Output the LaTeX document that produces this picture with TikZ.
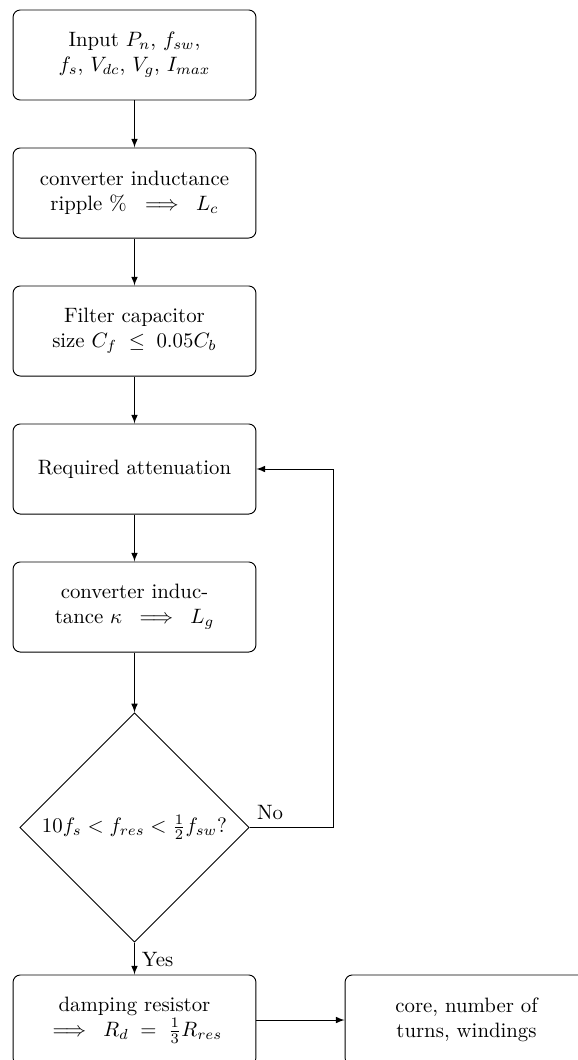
\documentclass[tikz,border=0pt]{standalone}
\usepackage{amsmath}
\usetikzlibrary{shapes.geometric,arrows}
\begin{document}
\begin{tikzpicture}[x=0.4808pt,y=-0.4808pt,>=latex,line width=0.45pt,
  blk/.style={rectangle,draw,rounded corners=3.5pt,minimum width=116.8pt,minimum height=43.3pt,align=center,inner sep=2pt},
  dec/.style={diamond,draw,aspect=1,minimum width=110.3pt,minimum height=110.3pt,inner sep=1pt,align=center},
  lbl/.style={inner sep=3.33pt},
  conn/.style={->}]
\useasboundingbox (0,0) rectangle (577,1060);
\node[blk] (b1) at (134.5,55) {Input $P_n$, $f_{sw}$,\\ $f_s$, $V_{dc}$, $V_g$, $I_{max}$};
\node[blk] (b2) at (134.5,193) {converter inductance\\ ripple \% $\;\implies\; L_c$};
\node[blk] (b3) at (134.5,331) {Filter capacitor\\ size $C_f \;\leq\; 0.05C_b$};
\node[blk] (b4) at (134.5,469) {Required attenuation};
\node[blk] (b5) at (134.5,607) {converter induc-\\ tance $\kappa \;\implies\; L_g$};
\node[dec] (d) at (134.5,827.5) {$10f_s < f_{res} < \tfrac{1}{2}f_{sw}$?};
\node[blk] (b7) at (134.5,1020) {damping resistor\\ $\implies\; R_d \;=\; \tfrac{1}{3}R_{res}$};
\node[blk] (b8) at (466.5,1020) {core, number of\\ turns, windings};
\coordinate (c1) at (333,827.5);
\coordinate (c2) at (333,469);
\draw[conn] (b1) -- (b2);
\draw[conn] (b2) -- (b3);
\draw[conn] (b3) -- (b4);
\draw[conn] (b4) -- (b5);
\draw[conn] (b5) -- (d);
\draw[conn] (d) -- (b7);
\draw[conn] (b7) -- (b8);
\draw[conn] (d.east) -- (c1) -- (c2) -- (b4.east);
\node[lbl,anchor=south west] (no) at (d.east) {No};
\node[lbl,anchor=west] (yes) at (134.5,960) {Yes};
\end{tikzpicture}
\end{document}
